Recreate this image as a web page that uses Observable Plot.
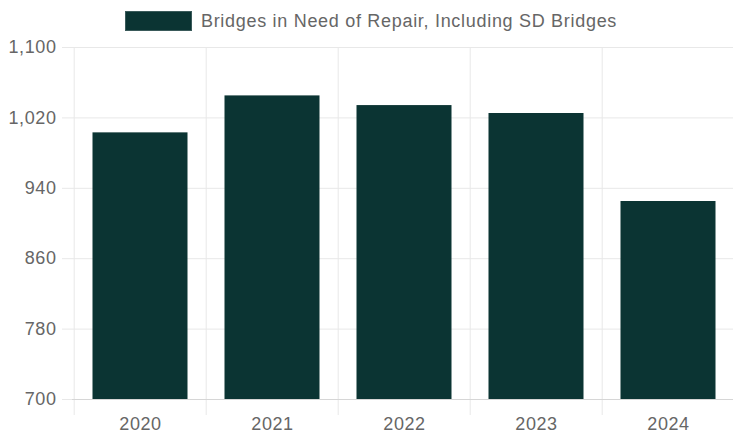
<!DOCTYPE html>
<html>
<head>
<meta charset="utf-8">
<script src="https://cdn.jsdelivr.net/npm/d3@7"></script>
<script src="https://cdn.jsdelivr.net/npm/@observablehq/plot@0.6"></script>
<style>
  html, body { margin: 0; padding: 0; background: #fff; }
  body { width: 733px; height: 433px; overflow: hidden; font-family: "Liberation Sans", Arial, Helvetica, sans-serif; }
  #legend { height: 34px; display: flex; align-items: flex-start; justify-content: center; padding-top: 11px; padding-left: 9px; box-sizing: border-box; color: #666; font-size: 18px; line-height: 20px; letter-spacing: 0.7px; }
  #legend .sw { width: 67px; height: 20px; margin-right: 9px; border: 1px solid #3a5a5a; box-sizing: border-box; }
  #chart svg { display: block; }
  #chart svg text { letter-spacing: 0.6px; }
</style>
</head>
<body>
<div id="legend"></div>
<div id="chart"></div>
<script>
const years = ["2020", "2021", "2022", "2023", "2024"];
const values = [1003, 1045, 1034, 1025, 925];
const yDomain = [700, 1100];
const yTicks = [700, 780, 860, 940, 1020, 1100];
const seriesLabel = "Bridges in Need of Repair, Including SD Bridges";
const barColor = "#0b3433";

const data = years.map((year, i) => ({year, value: values[i]}));

const legend = document.getElementById("legend");
const sw = document.createElement("span");
sw.className = "sw";
sw.style.background = barColor;
const lt = document.createElement("span");
lt.textContent = seriesLabel;
legend.append(sw, lt);

const W = 733, H = 399, ML = 72, MR = -2;
const step = (W - ML - MR) / years.length;

const chart = Plot.plot({
  width: W,
  height: H,
  marginTop: 13,
  marginBottom: 34,
  marginLeft: ML,
  marginRight: MR,
  style: {fontFamily: '"Liberation Sans", Arial, Helvetica, sans-serif', fontSize: "18px", background: "#fff", overflow: "visible"},
  x: {domain: years, padding: 0, axis: null, label: null},
  y: {domain: yDomain, axis: null, label: null},
  marks: [
    Plot.gridY(yTicks, {stroke: "#e8e8e8", strokeOpacity: 1}),
    Plot.ruleX(years, {x: d => d, dx: -step / 2, stroke: "#e8e8e8", insetBottom: -16}),
    Plot.axisY(yTicks, {tickSize: 10, tickPadding: 6, stroke: "#e8e8e8", fill: "#666", tickFormat: d3.format(","), fontSize: 18, label: null}),
    Plot.barY(data, {x: "year", y1: yDomain[0], y2: "value", fill: barColor, insetLeft: 18.5, insetRight: 18.5}),
    Plot.ruleY([yDomain[0]], {stroke: "#d6d6d6"}),
    Plot.axisX(years, {tickSize: 0, tickPadding: 18, fill: "#666", fontSize: 18, label: null})
  ]
});
document.getElementById("chart").append(chart);
</script>
</body>
</html>
